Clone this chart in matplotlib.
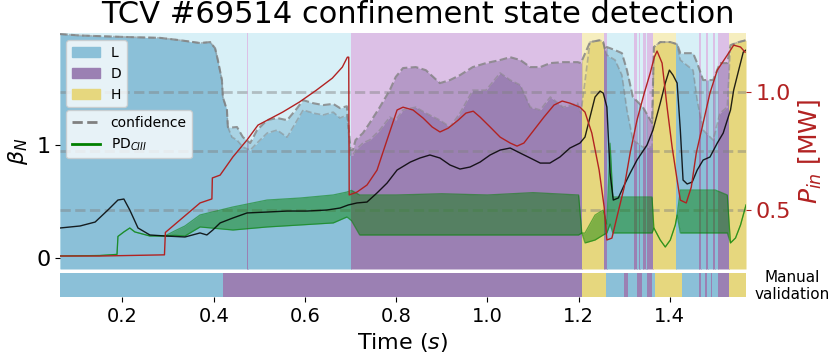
import numpy as np
import matplotlib.pyplot as plt
from matplotlib.patches import Patch, Rectangle
from matplotlib.lines import Line2D

# ---- colours of the three confinement states ----
col    = {'L': '#8bc0d8', 'D': '#9b80b3', 'H': '#e6d77e'}
col_bg = {'L': '#d8f0f7', 'D': '#dcc0e6', 'H': '#f6eebf'}

# ---- detected states (segment edges in s) ----
det_edges  = [0.063, 0.474, 0.476, 0.702, 1.207, 1.255, 1.262, 1.322, 1.328, 1.333, 1.335,
              1.342, 1.348, 1.350, 1.363, 1.414, 1.463, 1.469, 1.479, 1.483, 1.494, 1.499,
              1.506, 1.530, 1.567]
det_states = ['L', 'D', 'L', 'D', 'H', 'D', 'L', 'D', 'L', 'D', 'L', 'D', 'L', 'D', 'H',
              'L', 'D', 'L', 'D', 'L', 'D', 'L', 'D', 'H']

# ---- manual validation ----
man_edges  = [0.063, 0.420, 1.207, 1.260, 1.300, 1.308, 1.328, 1.340, 1.350, 1.361, 1.368,
              1.427, 1.465, 1.468, 1.478, 1.481, 1.490, 1.493, 1.505, 1.530, 1.567]
man_states = ['L', 'D', 'H', 'L', 'D', 'L', 'D', 'L', 'D', 'L', 'H', 'L', 'D', 'L', 'D',
              'L', 'D', 'L', 'D', 'H']

# ---- confidence (fraction of axis height), low / high envelope ----
t_conf  = [0.063, 0.107, 0.151, 0.217, 0.282, 0.326, 0.370, 0.392, 0.403, 0.409, 0.418,
           0.420, 0.429, 0.431, 0.440, 0.451, 0.464, 0.480, 0.495, 0.517, 0.539, 0.561,
           0.583, 0.596, 0.618, 0.640, 0.662, 0.677, 0.692, 0.700, 0.705, 0.711, 0.727,
           0.742, 0.764, 0.786, 0.799, 0.815, 0.843, 0.865, 0.896, 0.918, 0.940, 0.968,
           0.997, 1.028, 1.050, 1.072, 1.094, 1.116, 1.138, 1.166, 1.198, 1.205, 1.225,
           1.247, 1.254, 1.258, 1.262, 1.280, 1.295, 1.306, 1.319, 1.341, 1.361, 1.365,
           1.379, 1.401, 1.416, 1.423, 1.451, 1.460, 1.473, 1.495, 1.510, 1.526, 1.533,
           1.551, 1.567]
conf_lo = [0.996, 0.990, 0.987, 0.983, 0.980, 0.970, 0.958, 0.962, 0.936, 0.886, 0.801,
           0.729, 0.674, 0.602, 0.559, 0.547, 0.517, 0.504, 0.534, 0.576, 0.589, 0.559,
           0.631, 0.674, 0.661, 0.653, 0.665, 0.640, 0.653, 0.483, 0.483, 0.504, 0.534,
           0.547, 0.589, 0.644, 0.631, 0.674, 0.686, 0.661, 0.631, 0.602, 0.661, 0.758,
           0.758, 0.831, 0.801, 0.780, 0.686, 0.674, 0.729, 0.686, 0.703, 0.661, 0.962,
           0.970, 0.962, 0.928, 0.907, 0.886, 0.822, 0.674, 0.547, 0.517, 0.517, 0.941,
           0.962, 0.962, 0.953, 0.886, 0.843, 0.716, 0.589, 0.547, 0.661, 0.686, 0.949,
           0.962, 0.970]
conf_hi = [0.996, 0.990, 0.987, 0.983, 0.980, 0.970, 0.958, 0.962, 0.936, 0.886, 0.801,
           0.729, 0.674, 0.602, 0.600, 0.602, 0.559, 0.534, 0.589, 0.631, 0.640, 0.631,
           0.682, 0.716, 0.703, 0.695, 0.700, 0.682, 0.690, 0.504, 0.504, 0.547, 0.576,
           0.619, 0.686, 0.758, 0.814, 0.852, 0.856, 0.843, 0.788, 0.801, 0.822, 0.856,
           0.873, 0.886, 0.898, 0.886, 0.856, 0.856, 0.873, 0.877, 0.877, 0.873, 0.962,
           0.970, 0.962, 0.928, 0.941, 0.928, 0.915, 0.843, 0.729, 0.686, 0.619, 0.941,
           0.962, 0.962, 0.953, 0.915, 0.915, 0.873, 0.801, 0.801, 0.873, 0.873, 0.949,
           0.962, 0.970]

# ---- normalised beta ----
t_beta = [0.063, 0.107, 0.140, 0.168, 0.190, 0.203, 0.216, 0.234, 0.260, 0.293, 0.337,
          0.370, 0.385, 0.398, 0.414, 0.442, 0.473, 0.517, 0.561, 0.605, 0.648, 0.677,
          0.695, 0.714, 0.736, 0.758, 0.780, 0.802, 0.831, 0.852, 0.874, 0.896, 0.918,
          0.940, 0.962, 0.984, 1.006, 1.028, 1.050, 1.072, 1.094, 1.116, 1.137, 1.159,
          1.181, 1.203, 1.214, 1.225, 1.236, 1.247, 1.254, 1.262, 1.269, 1.276, 1.287,
          1.298, 1.313, 1.328, 1.350, 1.363, 1.379, 1.390, 1.399, 1.407, 1.416, 1.423,
          1.429, 1.438, 1.449, 1.460, 1.473, 1.488, 1.504, 1.517, 1.526, 1.533, 1.540,
          1.551, 1.561, 1.567]
beta_n = [0.265, 0.283, 0.318, 0.425, 0.514, 0.523, 0.425, 0.265, 0.203, 0.194, 0.185,
          0.221, 0.203, 0.247, 0.310, 0.354, 0.399, 0.407, 0.416, 0.416, 0.425, 0.443,
          0.470, 0.488, 0.496, 0.577, 0.665, 0.781, 0.852, 0.888, 0.915, 0.888, 0.826,
          0.790, 0.808, 0.852, 0.915, 0.959, 0.977, 0.932, 0.888, 0.843, 0.843, 0.897,
          0.977, 1.021, 1.075, 1.253, 1.431, 1.484, 1.466, 1.342, 0.754, 0.514, 0.532,
          0.630, 0.754, 0.870, 1.004, 1.137, 1.377, 1.555, 1.671, 1.626, 1.555, 1.137,
          0.692, 0.657, 0.674, 0.781, 0.870, 0.897, 1.021, 1.110, 1.226, 1.315, 1.493,
          1.671, 1.831, 1.849]

# ---- input power (MW) ----
t_pin = [0.063, 0.150, 0.292, 0.294, 0.370, 0.396, 0.397, 0.414, 0.442, 0.473, 0.497,
         0.551, 0.588, 0.625, 0.660, 0.682, 0.693, 0.696, 0.697, 0.714, 0.736, 0.758,
         0.780, 0.802, 0.815, 0.837, 0.859, 0.879, 0.896, 0.914, 0.936, 0.953, 0.969,
         0.984, 1.006, 1.028, 1.050, 1.065, 1.080, 1.102, 1.124, 1.146, 1.164, 1.181,
         1.203, 1.214, 1.229, 1.245, 1.256, 1.262, 1.273, 1.284, 1.300, 1.313, 1.328,
         1.344, 1.357, 1.366, 1.372, 1.383, 1.394, 1.405, 1.416, 1.423, 1.436, 1.447,
         1.458, 1.473, 1.488, 1.504, 1.526, 1.540, 1.555, 1.565]
p_in  = [0.305, 0.305, 0.310, 0.405, 0.530, 0.547, 0.636, 0.648, 0.725, 0.797, 0.860,
         0.915, 0.958, 1.008, 1.059, 1.106, 1.148, 1.148, 0.564, 0.576, 0.606, 0.669,
         0.797, 0.924, 0.936, 0.924, 0.890, 0.852, 0.831, 0.847, 0.881, 0.911, 0.919,
         0.894, 0.852, 0.809, 0.784, 0.771, 0.784, 0.839, 0.894, 0.945, 0.962, 0.953,
         0.936, 0.915, 0.826, 0.669, 0.513, 0.373, 0.381, 0.470, 0.597, 0.742, 0.881,
         0.996, 1.081, 1.148, 1.174, 1.123, 0.936, 0.767, 0.627, 0.542, 0.530, 0.597,
         0.742, 0.869, 0.996, 1.093, 1.157, 1.199, 1.191, 1.169]

# ---- CIII photodiode (same axis as beta), low / high envelope ----
t_pd  = [0.063, 0.150, 0.188, 0.190, 0.203, 0.216, 0.227, 0.260, 0.293, 0.315, 0.337,
         0.370, 0.442, 0.517, 0.590, 0.662, 0.692, 0.702, 0.720, 0.800, 0.900, 1.000,
         1.100, 1.200, 1.207, 1.214, 1.236, 1.254, 1.262, 1.269, 1.275, 1.298, 1.330,
         1.361, 1.365, 1.379, 1.390, 1.401, 1.412, 1.416, 1.423, 1.460, 1.500, 1.526,
         1.533, 1.544, 1.555, 1.567]
pd_lo = [0.016, 0.020, 0.030, 0.190, 0.230, 0.265, 0.230, 0.194, 0.194, 0.200, 0.194,
         0.274, 0.247, 0.274, 0.292, 0.310, 0.363, 0.330, 0.203, 0.203, 0.203, 0.203,
         0.203, 0.203, 0.221, 0.132, 0.158, 0.203, 0.221, 0.300, 0.221, 0.221, 0.221,
         0.221, 0.265, 0.158, 0.096, 0.158, 0.292, 0.381, 0.221, 0.221, 0.221, 0.221,
         0.132, 0.176, 0.292, 0.470]
pd_hi = [0.016, 0.020, 0.030, 0.190, 0.230, 0.265, 0.230, 0.194, 0.194, 0.240, 0.283,
         0.381, 0.452, 0.514, 0.532, 0.559, 0.585, 0.600, 0.559, 0.559, 0.570, 0.559,
         0.580, 0.559, 0.221, 0.220, 0.380, 0.425, 0.300, 1.020, 0.541, 0.541, 0.541,
         0.541, 0.265, 0.158, 0.096, 0.158, 0.292, 0.381, 0.603, 0.603, 0.603, 0.559,
         0.132, 0.176, 0.292, 0.470]

fig = plt.figure(figsize=(8.3, 3.64), dpi=100)
ax = fig.add_axes([0.0723, 0.261, 0.8265, 0.648])
axs = fig.add_axes([0.0723, 0.184, 0.8265, 0.066], sharex=ax)
trans = ax.get_xaxis_transform()

# background + confidence fill per state segment
for s, e, st in zip(det_edges[:-1], det_edges[1:], det_states):
    ax.axvspan(s, e, color=col_bg[st], lw=0, zorder=0)
    clip = Rectangle((s, 0), e - s, 1, transform=trans)
    f1 = ax.fill_between(t_conf, 0, conf_lo, color=col[st], lw=0, transform=trans, zorder=1)
    f1.set_clip_path(clip)
    f2 = ax.fill_between(t_conf, conf_lo, conf_hi, color=col[st], alpha=0.6, lw=0,
                         transform=trans, zorder=1)
    f2.set_clip_path(clip)

ax.plot(t_conf, conf_hi, '--', color='gray', lw=1.5, alpha=0.8, transform=trans, zorder=2)
ax.plot(t_conf, conf_lo, '--', color='gray', lw=1.2, alpha=0.5, transform=trans, zorder=2)
for c in [0.25, 0.5, 0.75]:
    ax.plot([0, 1], [c, c], '--', color='gray', lw=2, alpha=0.45, transform=ax.transAxes, zorder=2)

ax.fill_between(t_pd, pd_lo, pd_hi, color='green', alpha=0.45, lw=0, zorder=3)
ax.plot(t_pd, pd_lo, color='green', lw=0.9, alpha=0.55, zorder=3)
ax.plot(t_pd, pd_hi, color='green', lw=0.9, alpha=0.55, zorder=3)
ax.plot(t_beta, beta_n, color='black', lw=1, alpha=0.85, zorder=4)

ax.set_xlim(det_edges[0], det_edges[-1])
ax.set_ylim(-0.1, 2.0)
ax.set_yticks([0, 1])
ax.tick_params(axis='y', labelsize=16)
ax.tick_params(axis='x', bottom=False, labelbottom=False)
ax.set_ylabel(r'$\beta_N$', fontsize=16)
for sp in ax.spines.values():
    sp.set_visible(False)
fig.suptitle('TCV #69514 confinement state detection', fontsize=22, x=0.503, y=1.0, va='top')

ax2 = ax.twinx()
ax2.plot(t_pin, p_in, color='firebrick', lw=1, zorder=5)
ax2.set_ylim(0.25, 1.25)
ax2.set_yticks([0.5, 1.0])
ax2.tick_params(axis='y', labelsize=16, colors='firebrick')
ax2.set_ylabel(r'$P_{in}$ [MW]', fontsize=18, color='firebrick')
for sp in ax2.spines.values():
    sp.set_visible(False)

leg1 = ax.legend(handles=[Patch(color=col[k]) for k in 'LDH'], labels=['L', 'D', 'H'],
                 loc='upper left', bbox_to_anchor=(0.009, 0.97), borderaxespad=0, fontsize=10)
ax.add_artist(leg1)
ax.legend(handles=[Line2D([], [], ls='--', color='gray', lw=2),
                   Line2D([], [], color='green', lw=2)],
          labels=['confidence', r'PD$_{CIII}$'], loc='upper left',
          bbox_to_anchor=(0.009, 0.674), borderaxespad=0, fontsize=10)

# manual validation strip
for s, e, st in zip(man_edges[:-1], man_edges[1:], man_states):
    axs.axvspan(s, e, color=col[st], lw=0)
axs.set_yticks([])
for sp in axs.spines.values():
    sp.set_visible(False)
axs.set_xticks([0.2, 0.4, 0.6, 0.8, 1.0, 1.2, 1.4])
axs.tick_params(axis='x', labelsize=14)
axs.set_xlabel('Time ($s$)', fontsize=16)
axs.text(1.012, 0.45, 'Manual\nvalidation', transform=axs.transAxes, ha='left', va='center',
         multialignment='center', fontsize=11)

fig.savefig('out.png', dpi=100)
